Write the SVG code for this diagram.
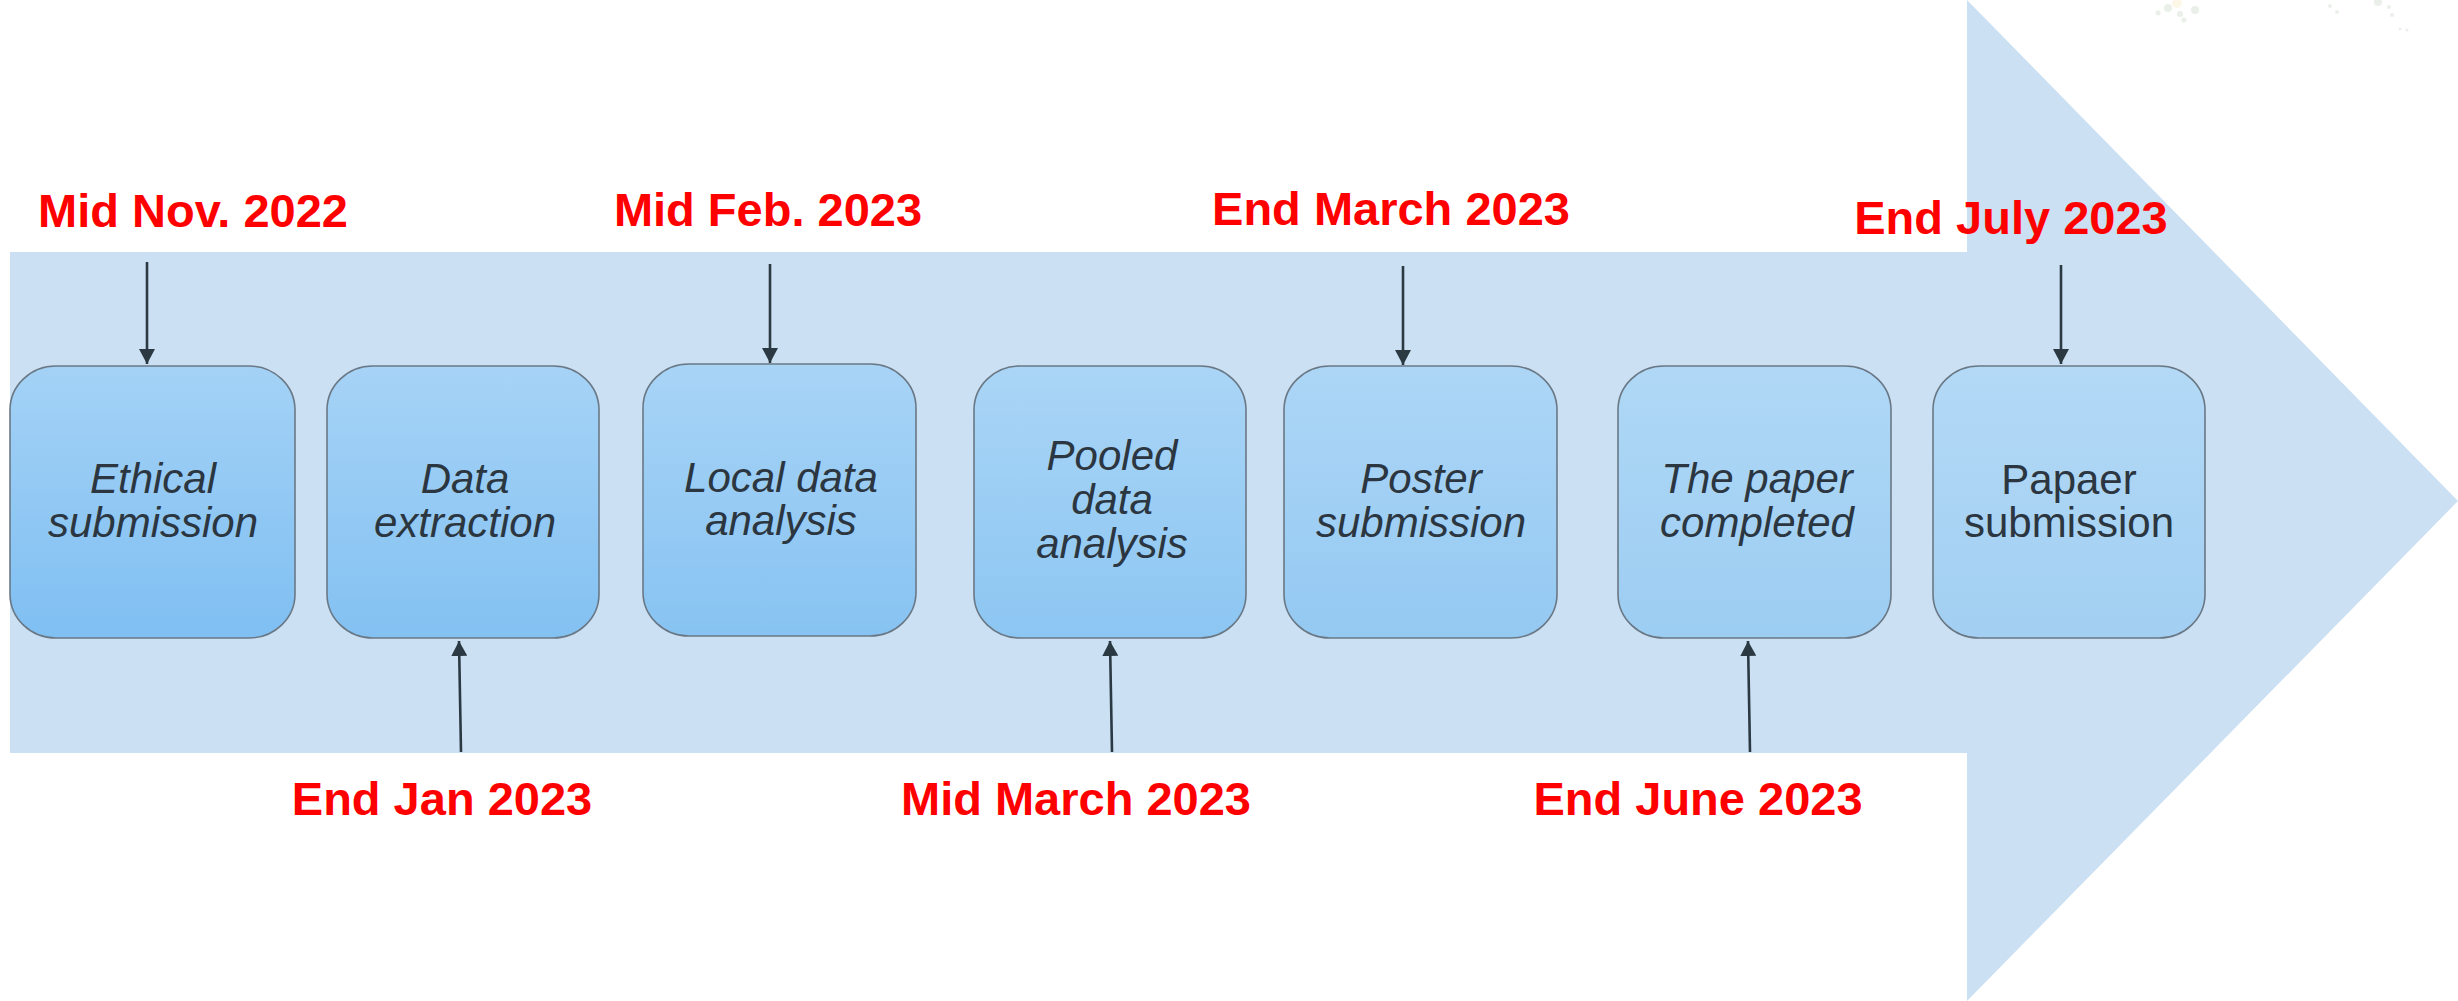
<svg xmlns="http://www.w3.org/2000/svg" width="2458" height="1001" viewBox="0 0 2458 1001">
<style>
.box{stroke:#6a7885;stroke-width:1.6}
.nt{font-family:"Liberation Sans",Arial,sans-serif;font-size:42px;font-style:italic;fill:#2b3640;text-anchor:middle}
.nn{font-family:"Liberation Sans",Arial,sans-serif;font-size:42px;fill:#2b3640;text-anchor:middle}
.date{font-family:"Liberation Sans",Arial,sans-serif;font-size:47px;font-weight:bold;fill:#ff0000;text-anchor:middle}
.con{stroke:#2b3943;stroke-width:2.6;fill:none;marker-end:url(#ah)}
</style>
<defs>
<marker id="ah" viewBox="0 0 15 16" refX="15" refY="8" markerWidth="15" markerHeight="16" markerUnits="userSpaceOnUse" orient="auto">
<path d="M0,0 L15,8 L0,16 z" fill="#2b3943"/>
</marker>
<linearGradient id="g1" x1="0" y1="0" x2="0" y2="1"><stop offset="0" stop-color="#a4d2f6"/><stop offset="1" stop-color="#7fbff2"/></linearGradient>
<linearGradient id="g2" x1="0" y1="0" x2="0" y2="1"><stop offset="0" stop-color="#a6d3f6"/><stop offset="1" stop-color="#83c1f2"/></linearGradient>
<linearGradient id="g3" x1="0" y1="0" x2="0" y2="1"><stop offset="0" stop-color="#a8d4f6"/><stop offset="1" stop-color="#87c3f2"/></linearGradient>
<linearGradient id="g4" x1="0" y1="0" x2="0" y2="1"><stop offset="0" stop-color="#aad5f6"/><stop offset="1" stop-color="#8cc6f2"/></linearGradient>
<linearGradient id="g5" x1="0" y1="0" x2="0" y2="1"><stop offset="0" stop-color="#add6f6"/><stop offset="1" stop-color="#94c9f2"/></linearGradient>
<linearGradient id="g6" x1="0" y1="0" x2="0" y2="1"><stop offset="0" stop-color="#b0d8f6"/><stop offset="1" stop-color="#9ccdf2"/></linearGradient>
<linearGradient id="g7" x1="0" y1="0" x2="0" y2="1"><stop offset="0" stop-color="#b3d9f6"/><stop offset="1" stop-color="#a2cff2"/></linearGradient>
</defs>
<rect width="2458" height="1001" fill="#ffffff"/>
<g id="decor" opacity="0.2">
<circle cx="2168" cy="8" r="4" fill="#9bb59b"/><circle cx="2177" cy="3" r="5" fill="#f3d98a"/><circle cx="2180" cy="14" r="3" fill="#9bb59b"/>
<circle cx="2158" cy="13" r="2.5" fill="#9bb59b"/><circle cx="2184" cy="20" r="2.5" fill="#9bb59b"/><circle cx="2195" cy="10" r="4" fill="#9bb59b"/>
<circle cx="2330" cy="6" r="2" fill="#9bb59b"/><circle cx="2337" cy="12" r="2" fill="#9bb59b"/><circle cx="2378" cy="2" r="4" fill="#9bb59b"/>
<circle cx="2389" cy="7" r="2" fill="#9bb59b"/><circle cx="2392" cy="15" r="2" fill="#9bb59b"/><circle cx="2400" cy="29" r="1.5" fill="#9bb59b"/><circle cx="2407" cy="30" r="1.5" fill="#9bb59b"/>
</g>
<g id="big-arrow">
<path d="M10,252 L1967,252 L1967,0 L2458,501 L1967,1001 L1967,753 L10,753 Z" fill="#cbe0f3"/>
</g>
<g id="connectors">
<line class="con" x1="147" y1="262" x2="147" y2="364"/>
<line class="con" x1="461" y1="752" x2="459" y2="641"/>
<line class="con" x1="770" y1="264" x2="770" y2="363"/>
<line class="con" x1="1112" y1="752" x2="1110" y2="641"/>
<line class="con" x1="1403" y1="266" x2="1403" y2="365"/>
<line class="con" x1="1750" y1="752" x2="1748" y2="641"/>
<line class="con" x1="2061" y1="265" x2="2061" y2="364"/>
</g>
<g id="node1">
<rect class="box" x="10" y="366" width="285" height="272" rx="46" ry="44" fill="url(#g1)"/>
<text class="nt"><tspan x="153" y="493">Ethical</tspan><tspan x="153" y="537">submission</tspan></text>
</g>
<g id="node2">
<rect class="box" x="327" y="366" width="272" height="272" rx="46" ry="44" fill="url(#g2)"/>
<text class="nt"><tspan x="465" y="493">Data</tspan><tspan x="465" y="537">extraction</tspan></text>
</g>
<g id="node3">
<rect class="box" x="643" y="364" width="273" height="272" rx="46" ry="44" fill="url(#g3)"/>
<text class="nt"><tspan x="781" y="492">Local data</tspan><tspan x="781" y="535">analysis</tspan></text>
</g>
<g id="node4">
<rect class="box" x="974" y="366" width="272" height="272" rx="46" ry="44" fill="url(#g4)"/>
<text class="nt"><tspan x="1112" y="470">Pooled</tspan><tspan x="1112" y="514">data</tspan><tspan x="1112" y="558">analysis</tspan></text>
</g>
<g id="node5">
<rect class="box" x="1284" y="366" width="273" height="272" rx="46" ry="44" fill="url(#g5)"/>
<text class="nt"><tspan x="1421" y="493">Poster</tspan><tspan x="1421" y="537">submission</tspan></text>
</g>
<g id="node6">
<rect class="box" x="1618" y="366" width="273" height="272" rx="46" ry="44" fill="url(#g6)"/>
<text class="nt"><tspan x="1757" y="493">The paper</tspan><tspan x="1757" y="537">completed</tspan></text>
</g>
<g id="node7">
<rect class="box" x="1933" y="366" width="272" height="272" rx="46" ry="44" fill="url(#g7)"/>
<text class="nn"><tspan x="2069" y="494">Papaer</tspan><tspan x="2069" y="537">submission</tspan></text>
</g>
<g id="dates">
<text class="date" x="193" y="227">Mid Nov. 2022</text>
<text class="date" x="768" y="226">Mid Feb. 2023</text>
<text class="date" x="1391" y="225">End March 2023</text>
<text class="date" x="2011" y="234">End July 2023</text>
<text class="date" x="442" y="815">End Jan 2023</text>
<text class="date" x="1076" y="815">Mid March 2023</text>
<text class="date" x="1698" y="815">End June 2023</text>
</g>
</svg>
